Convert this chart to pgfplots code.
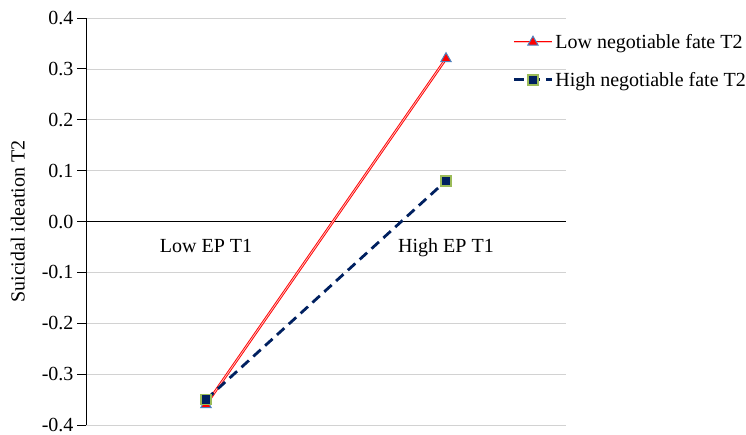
\documentclass[border=0pt]{standalone}
\usepackage{pgfplots}
\pgfplotsset{compat=1.18}
\usepackage{fontspec}
\setmainfont{Liberation Serif}
\definecolor{navy}{HTML}{002060}
\definecolor{sqedge}{HTML}{9BBB59}
\definecolor{triedge}{HTML}{4F81BD}
\begin{document}
\begin{tikzpicture}
\path[use as bounding box] (0,0) rectangle (746pt,435pt);
\begin{axis}[
  scale only axis, width=480pt, height=407pt,
  at={(86pt,10pt)}, anchor=south west,
  xmin=0, xmax=2, ymin=-0.4, ymax=0.4,
  axis y line=left, axis x line=middle,
  axis line style={-, black, line width=0.9pt},
  xtick={0.5,1.5}, xticklabels={Low EP T1, High EP T1},
  x tick style={draw=none},
  x tick label style={yshift=-5pt},
  ytick={-0.4,-0.3,...,0.4},
  yticklabel style={/pgf/number format/fixed, /pgf/number format/fixed zerofill, /pgf/number format/precision=1},
  /pgf/number format/assume math mode=true,
  y tick style={black, line width=0.8pt},
  tick align=outside, major tick length=9pt,
  ymajorgrids, grid style={gray!35, line width=0.7pt},
  tick label style={font=\fontsize{20}{24}\selectfont},
  ylabel={Suicidal ideation T2},
  ylabel style={font=\fontsize{20}{24}\selectfont, yshift=10pt},
  legend style={at={(axis description cs:0.882,0.97)}, anchor=north west, draw=none, fill=none,
    font=\fontsize{20}{24}\selectfont, row sep=18pt},
  legend cell align=left,
  legend image code/.code={%
    \draw[mark repeat=2,mark phase=2,#1] plot coordinates {(0pt,0pt) (19pt,0pt) (38pt,0pt)};},
  clip=false,
]
\addplot[draw=red, double=red!25, double distance=0.8pt, line width=0.9pt,
  mark=triangle*, mark size=6pt, mark options={solid, fill=red, draw=triedge, line width=1pt}]
  coordinates {(0.5,-0.36) (1.5,0.32)};
\addlegendentry{Low negotiable fate T2}
\addplot[draw=navy, line width=2.8pt, dash pattern=on 10pt off 6pt,
  mark=square*, mark size=5pt, mark options={solid, fill=navy, draw=sqedge, line width=1.5pt}]
  coordinates {(0.5,-0.35) (1.5,0.08)};
\addlegendentry{High negotiable fate T2}
\end{axis}
\end{tikzpicture}
\end{document}
